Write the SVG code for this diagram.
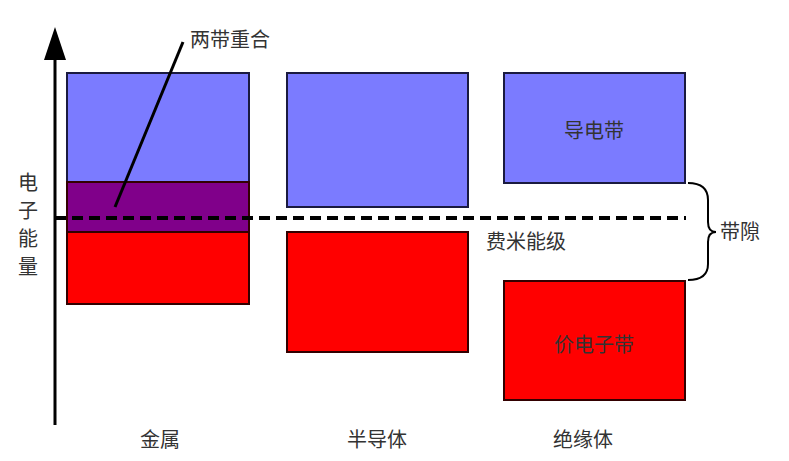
<svg xmlns="http://www.w3.org/2000/svg" width="789" height="461" viewBox="0 0 789 461">
<style>
.t{font-family:"Noto Sans CJK SC","Liberation Sans",sans-serif;fill:#333;font-size:20px}
.b{fill:#7b7bff;stroke:#1a1a40;stroke-width:2}
.r{fill:#ff0000;stroke:#300;stroke-width:2}
.p{fill:#80008a;stroke:#300;stroke-width:2}
</style>
<rect width="789" height="461" fill="#fff"/>
<g id="axis">
<line x1="55" y1="50" x2="55" y2="425" stroke="#000" stroke-width="3"/>
<polygon points="55,27 44,60 66,60" fill="#000"/>
<text class="t" x="28" y="190" text-anchor="middle" font-size="22">电</text>
<text class="t" x="28" y="218" text-anchor="middle" font-size="22">子</text>
<text class="t" x="28" y="246" text-anchor="middle" font-size="22">能</text>
<text class="t" x="28" y="274" text-anchor="middle" font-size="22">量</text>
</g>
<g id="metal">
<rect class="b" x="67" y="73" width="182" height="109"/>
<rect class="p" x="67" y="182" width="182" height="50"/>
<rect class="r" x="67" y="232" width="182" height="72"/>
<text class="t" x="160" y="447" text-anchor="middle">金属</text>
</g>
<g id="semiconductor">
<rect class="b" x="287" y="73" width="181" height="134"/>
<rect class="r" x="287" y="232" width="181" height="120"/>
<text class="t" x="377" y="447" text-anchor="middle">半导体</text>
</g>
<g id="insulator">
<rect class="b" x="504" y="73" width="181" height="110"/>
<rect class="r" x="504" y="281" width="181" height="119"/>
<text class="t" x="594" y="138" text-anchor="middle">导电带</text>
<text class="t" x="594" y="352" text-anchor="middle">价电子带</text>
<text class="t" x="583" y="447" text-anchor="middle">绝缘体</text>
</g>
<g id="connectors">
<line x1="55" y1="218" x2="686" y2="218" stroke="#000" stroke-width="4" stroke-dasharray="11,6"/>
<line x1="183" y1="42" x2="115" y2="207" stroke="#000" stroke-width="3"/>
<path d="M688,183 Q708,183 708,200 L708,222 Q708,232 716,232 Q708,232 708,242 L708,264 Q708,280 688,280" fill="none" stroke="#000" stroke-width="2"/>
</g>
<g id="labels">
<text class="t" x="190" y="47">两带重合</text>
<text class="t" x="486" y="249">费米能级</text>
<text class="t" x="720" y="239">带隙</text>
</g>
</svg>
